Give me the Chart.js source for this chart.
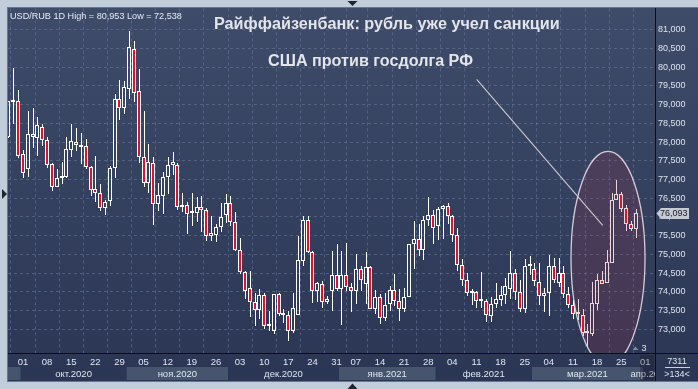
<!DOCTYPE html>
<html>
<head>
<meta charset="utf-8">
<script src="https://cdn.jsdelivr.net/npm/chart.js@4.4.1/dist/chart.umd.min.js"></script>
<style>
  html, body { margin: 0; padding: 0; background: #c2cddb; overflow: hidden; }
  #wrap { position: relative; width: 698px; height: 389px; }
</style>
</head>
<body>
<div id="wrap"><canvas id="usdrub" width="698" height="389"></canvas></div>
<script>
// daily candles USD/RUB, 28.09.2020 .. 30.03.2021
const openP = [
  78.14, 79.07, 79.09, 77.67, 77.28, 78.21, 78.12, 78.41, 78.05, 77.41,
  76.80, 77.05, 77.06, 77.79, 78.00, 77.86, 77.89, 77.34, 76.74, 76.65,
  76.24, 76.42, 77.30, 79.15, 78.90, 79.41, 80.49, 79.36, 77.60, 76.90,
  77.43, 76.34, 76.57, 77.06, 77.38, 77.39, 76.27, 76.32, 76.10, 76.11,
  76.27, 76.19, 75.49, 75.51, 75.73, 76.04, 76.37, 75.87, 75.13, 74.54,
  74.11, 73.74, 73.52, 73.91, 73.10, 72.96, 73.93, 73.38, 73.37, 72.96,
  73.38, 74.82, 75.93, 75.07, 74.02, 74.20, 73.73, 74.02, 74.44, 74.08,
  74.44, 74.14, 74.02, 74.62, 74.22, 74.67, 73.55, 73.85, 73.29, 73.67,
  74.05, 73.76, 73.55, 73.85, 75.28, 75.41, 75.13, 75.93, 76.06, 75.75,
  76.21, 76.28, 76.02, 75.53, 74.73, 74.33, 73.98, 74.00, 73.76, 73.76,
  73.36, 73.67, 73.78, 73.91, 74.08, 74.51, 73.99, 73.53, 74.70, 74.62,
  74.26, 73.89, 73.98, 74.70, 74.24, 74.51, 73.95, 73.64, 73.40, 73.38,
  72.90, 72.87, 73.67, 74.33, 74.24, 74.78, 76.46, 76.62, 76.24, 75.80, 75.68
];
const highP = [
  79.10, 79.99, 79.40, 77.79, 78.84, 78.90, 78.68, 78.48, 78.13, 77.45,
  77.29, 77.46, 78.14, 78.47, 78.37, 78.23, 78.08, 77.35, 77.63, 76.89,
  76.46, 77.35, 79.28, 79.65, 79.62, 80.953, 80.69, 79.96, 78.83, 77.95,
  77.60, 76.91, 77.20, 77.60, 77.74, 77.43, 76.65, 76.39, 76.65, 76.52,
  76.55, 76.23, 76.02, 75.82, 76.36, 76.61, 76.55, 76.12, 75.45, 74.57,
  74.57, 73.98, 74.08, 73.98, 73.49, 73.95, 73.96, 73.53, 73.49, 73.96,
  75.50, 76.02, 76.02, 75.09, 74.26, 74.29, 73.88, 75.09, 75.29, 75.09,
  75.31, 74.24, 75.00, 74.69, 75.06, 74.70, 74.05, 73.93, 73.96, 74.16,
  74.47, 74.07, 74.11, 75.29, 75.90, 75.82, 76.02, 76.53, 76.19, 76.27,
  76.33, 76.37, 76.06, 75.71, 74.87, 74.51, 74.08, 74.02, 74.53, 73.82,
  73.85, 74.24, 74.16, 74.38, 75.09, 74.60, 74.33, 74.88, 74.97, 74.78,
  74.78, 74.11, 74.99, 74.91, 74.91, 74.69, 74.14, 73.78, 73.80, 73.53,
  73.14, 74.26, 74.47, 74.55, 75.13, 76.64, 77.00, 76.66, 76.33, 75.88, 76.21
];
const lowP = [
  78.10, 78.47, 77.57, 77.04, 77.08, 77.83, 77.63, 77.90, 77.30, 76.68,
  76.79, 76.89, 77.05, 77.61, 77.75, 77.42, 77.28, 76.57, 76.39, 76.15,
  76.04, 76.30, 77.03, 78.59, 78.76, 79.16, 79.08, 77.45, 76.79, 76.65,
  75.78, 76.15, 76.08, 76.62, 77.12, 76.18, 76.13, 75.55, 75.75, 75.87,
  75.60, 75.37, 75.35, 75.32, 75.61, 75.84, 75.75, 75.09, 74.47, 73.80,
  73.34, 73.09, 73.27, 73.00, 72.96, 72.87, 73.36, 73.18, 72.69, 72.91,
  73.37, 74.69, 75.04, 73.71, 73.73, 73.58, 73.68, 73.49, 74.02, 73.11,
  74.02, 73.45, 73.67, 74.02, 73.67, 73.53, 73.40, 73.14, 73.22, 73.49,
  73.62, 73.22, 73.45, 73.85, 74.60, 74.95, 74.86, 75.75, 75.29, 75.38,
  75.40, 75.80, 75.33, 74.55, 74.17, 73.89, 73.64, 73.58, 73.58, 73.20,
  73.20, 73.58, 73.62, 73.67, 73.80, 73.78, 73.45, 73.43, 74.44, 74.16,
  73.64, 73.45, 73.36, 74.25, 74.14, 73.84, 73.58, 73.27, 73.25, 72.83,
  72.538, 72.83, 73.52, 74.20, 74.24, 74.78, 76.44, 76.12, 75.62, 75.62, 75.44
];
const closeP = [
  79.09, 79.11, 77.64, 77.17, 78.21, 78.13, 78.45, 78.06, 77.38, 76.80,
  77.04, 77.07, 77.81, 78.02, 77.91, 77.91, 77.34, 76.72, 76.64, 76.24,
  76.41, 77.32, 79.15, 78.90, 79.46, 80.53, 79.32, 77.59, 76.90, 77.46,
  76.34, 76.59, 77.07, 77.38, 77.46, 76.27, 76.32, 76.08, 76.11, 76.26,
  76.19, 75.49, 75.56, 75.73, 76.00, 76.37, 75.86, 75.11, 74.53, 74.02,
  73.73, 73.52, 73.91, 73.09, 73.11, 73.93, 73.40, 73.39, 72.96, 73.58,
  74.84, 75.93, 75.07, 74.02, 74.23, 73.73, 73.80, 74.44, 74.08, 74.44,
  74.14, 74.02, 74.62, 74.31, 74.67, 73.55, 73.85, 73.29, 73.64, 74.05,
  73.76, 73.55, 73.85, 75.28, 75.41, 75.13, 75.91, 76.06, 75.71, 76.21,
  76.28, 76.02, 75.53, 74.73, 74.33, 73.98, 74.00, 73.76, 73.76, 73.38,
  73.67, 73.80, 73.91, 74.16, 74.51, 73.99, 73.53, 74.70, 74.75, 74.29,
  73.89, 73.98, 74.70, 74.31, 74.51, 73.95, 73.64, 73.40, 73.41, 72.90,
  72.91, 73.70, 74.33, 74.22, 74.79, 76.46, 76.62, 76.21, 75.80, 75.68, 76.093
];

const tickDates = [
  '2020-10-01', '2020-10-08', '2020-10-15', '2020-10-22', '2020-10-29',
  '2020-11-05', '2020-11-12', '2020-11-19', '2020-11-26',
  '2020-12-03', '2020-12-10', '2020-12-17', '2020-12-24', '2020-12-31',
  '2021-01-07', '2021-01-14', '2021-01-21', '2021-01-28',
  '2021-02-04', '2021-02-11', '2021-02-18', '2021-02-25',
  '2021-03-04', '2021-03-11', '2021-03-18', '2021-03-25', '2021-04-01'
];
const monthKeys = ['2020-09', '2020-10', '2020-11', '2020-12', '2021-01', '2021-02', '2021-03', '2021-04'];
const monthLabels = ['', 'окт.2020', 'ноя.2020', 'дек.2020', 'янв.2021', 'фев.2021', 'мар.2021', 'апр.2021'];
const priceTicks = [73, 73.5, 74, 74.5, 75, 75.5, 76, 76.5, 77, 77.5, 78, 78.5, 79, 79.5, 80, 80.5, 81];
const holidays = ['2021-01-01'];

const titleText = 'Райффайзенбанк: рубль уже учел санкции';
const noteText = 'США против госдолга РФ';

// trading days on the time axis (a few empty days at the right end)
const dates = [];
for (let t = Date.UTC(2020, 8, 28); t <= Date.UTC(2021, 3, 5); t += 864e5) {
    const d = new Date(t);
    const s = d.toISOString().slice(0, 10);
    if (d.getUTCDay() === 0 || d.getUTCDay() === 6 || holidays.includes(s)) continue;
    dates.push(s);
}
const tickIdx = tickDates.map(s => dates.indexOf(s));
const tickText = {};
tickIdx.forEach((i, k) => { tickText[i] = tickDates[k].slice(8); });

const fmt = v => v.toFixed(3).replace('.', ',');

// highlighted zone and the pointer line, in data units
const zone = { x: 124.26, y: 74.9, rx: 7.67, ry: 2.85 };
const pointer = { x1: 97.04, y1: 79.675, x2: 123.16, y2: 75.773 };

const RED = '#e2102f';
const FONT = '"Liberation Sans", Arial, sans-serif';

const bodies = openP.map((o, i) => ({ x: i, y: [o, closeP[i]] }));
const upWicks = openP.map((o, i) => ({ x: i, y: [Math.max(o, closeP[i]), highP[i]] }));
const downWicks = openP.map((o, i) => ({ x: i, y: [lowP[i], Math.min(o, closeP[i])] }));

function fitText(ctx, text, x, y, w, weight, color) {
    ctx.font = weight + ' 100px ' + FONT;
    const m = ctx.measureText(text).width;
    ctx.font = weight + ' ' + (100 * w / m).toFixed(2) + 'px ' + FONT;
    ctx.fillStyle = color;
    ctx.textAlign = 'left';
    ctx.textBaseline = 'alphabetic';
    ctx.fillText(text, x, y);
}

const framePlugin = {
    id: 'frame',
    beforeDraw(chart) {
        const ctx = chart.ctx;
        const xs = chart.scales.x;
        ctx.save();
        ctx.fillStyle = '#c2cddb';
        ctx.fillRect(0, 0, 698, 389);
        const g = ctx.createLinearGradient(0, 8, 0, 381);
        g.addColorStop(0, '#3e4b69');
        g.addColorStop(1, '#2a3654');
        ctx.fillStyle = g;
        ctx.fillRect(8, 8, 690, 373);
        ctx.strokeStyle = '#6a7590';
        ctx.lineWidth = 1;
        ctx.strokeRect(7.5, 7.5, 700, 374);

        // little arrows on the frame
        ctx.fillStyle = '#1e2534';
        ctx.beginPath(); ctx.moveTo(347.5, 1); ctx.lineTo(357.5, 1); ctx.lineTo(352.5, 6); ctx.fill();
        ctx.beginPath(); ctx.moveTo(2, 189); ctx.lineTo(2, 199); ctx.lineTo(7, 194); ctx.fill();
        ctx.beginPath(); ctx.moveTo(347.5, 389); ctx.lineTo(357.5, 389); ctx.lineTo(352.5, 383.5); ctx.fill();

        // month bands
        const slot = xs.getPixelForValue(1) - xs.getPixelForValue(0);
        ctx.beginPath();
        ctx.rect(8, 354, 647, 27);
        ctx.clip();
        ctx.font = '9.5px ' + FONT;
        ctx.textAlign = 'center';
        ctx.textBaseline = 'middle';
        monthKeys.forEach((k, m) => {
            const idx = [];
            dates.forEach((d, i) => { if (d.startsWith(k)) idx.push(i); });
            const x0 = xs.getPixelForValue(idx[0]) - slot / 2;
            const x1 = xs.getPixelForValue(idx[idx.length - 1]) + slot / 2;
            if (m % 2 === 0) {
                ctx.fillStyle = '#47546e';
                ctx.fillRect(x0, 367, x1 - x0, 13);
            }
            ctx.fillStyle = '#dfe5ef';
            ctx.fillText(monthLabels[m], (x0 + x1) / 2, 374);
        });
        ctx.restore();
    },
    beforeDatasetsDraw(chart) {
        // snap candles onto the pixel grid so they stay crisp
        const xs = chart.scales.x;
        chart.data.datasets.forEach((ds, di) => {
            chart.getDatasetMeta(di).data.forEach((el, i) => {
                const px = Math.round(xs.getPixelForValue(i));
                el.x = ds.wick ? px + 0.5 : px;
                el.y = Math.round(el.y);
                el.base = Math.round(el.base);
            });
        });
    },
    afterDatasetsDraw(chart) {
        const ctx = chart.ctx;
        const xs = chart.scales.x, ys = chart.scales.y;
        const ca = chart.chartArea;
        ctx.save();
        ctx.beginPath();
        ctx.rect(ca.left, ca.top, ca.right - ca.left, ca.bottom - ca.top);
        ctx.clip();
        const cx = xs.getPixelForValue(zone.x), cy = ys.getPixelForValue(zone.y);
        const rx = xs.getPixelForValue(zone.x + zone.rx) - cx;
        const ry = cy - ys.getPixelForValue(zone.y + zone.ry);
        ctx.beginPath();
        ctx.ellipse(cx, cy, rx, ry, 0, 0, Math.PI * 2);
        ctx.fillStyle = 'rgba(165,48,71,0.2)';
        ctx.fill();
        ctx.strokeStyle = 'rgba(228,220,230,0.9)';
        ctx.lineWidth = 1.3;
        ctx.stroke();

        ctx.beginPath();
        ctx.moveTo(xs.getPixelForValue(pointer.x1), ys.getPixelForValue(pointer.y1));
        ctx.lineTo(xs.getPixelForValue(pointer.x2), ys.getPixelForValue(pointer.y2));
        ctx.strokeStyle = '#c9cad3';
        ctx.lineWidth = 1.1;
        ctx.stroke();
        ctx.restore();
    },
    afterDraw(chart) {
        const ctx = chart.ctx;
        const ys = chart.scales.y;
        ctx.save();

        // shaded box over the current day on the time axis
        ctx.fillStyle = 'rgba(20,22,32,0.28)';
        ctx.fillRect(640, 355, 14, 26);

        // separators
        ctx.strokeStyle = '#0b0f18';
        ctx.lineWidth = 1;
        ctx.beginPath();
        ctx.moveTo(655.5, 8); ctx.lineTo(655.5, 381);
        ctx.moveTo(8, 353.5); ctx.lineTo(698, 353.5);
        ctx.stroke();

        // texts
        const hi = Math.max(...highP), lo = Math.min(...lowP);
        fitText(ctx, 'USD/RUB 1D High = ' + fmt(hi) + ' Low = ' + fmt(lo), 10, 18.5, 172, 'normal', '#e6ebf3');
        fitText(ctx, titleText, 214, 29, 346, 'bold', '#e3e5ea');
        fitText(ctx, noteText, 268, 65.7, 205, 'bold', '#e3e5ea');

        // last price marker
        const last = closeP[closeP.length - 1];
        const y = Math.round(ys.getPixelForValue(last)) + 0.5;
        ctx.beginPath();
        ctx.moveTo(656.5, y);
        ctx.lineTo(661, y - 5.5);
        ctx.lineTo(689, y - 5.5);
        ctx.lineTo(689, y + 5.5);
        ctx.lineTo(661, y + 5.5);
        ctx.closePath();
        ctx.fillStyle = '#c6cbd3';
        ctx.fill();
        ctx.fillStyle = '#141a28';
        ctx.font = '9px ' + FONT;
        ctx.textAlign = 'left';
        ctx.textBaseline = 'middle';
        ctx.fillText(fmt(last), 660, y + 0.5);

        // small marker at the bottom right of the plot
        ctx.fillStyle = '#7d8aa0';
        ctx.beginPath(); ctx.moveTo(632.5, 350); ctx.lineTo(638.5, 350); ctx.lineTo(635.5, 346.5); ctx.fill();
        ctx.fillStyle = '#dde3ee';
        ctx.font = '9px ' + FONT;
        ctx.textAlign = 'center';
        ctx.fillText('3', 644, 349);

        // counters under the price axis
        ctx.fillText('7311', 677, 361.5);
        ctx.fillText('>134<', 677, 374.5);
        ctx.strokeStyle = '#c9d0dc';
        ctx.beginPath(); ctx.moveTo(665, 367.5); ctx.lineTo(690, 367.5); ctx.stroke();
        ctx.restore();
    }
};

Chart.defaults.font.family = FONT;

new Chart(document.getElementById('usdrub').getContext('2d'), {
    type: 'bar',
    data: {
        datasets: [
            {
                data: bodies,
                backgroundColor: c => closeP[c.dataIndex] >= openP[c.dataIndex] ? 'rgba(0,0,0,0)' : RED,
                borderColor: '#ffffff',
                borderWidth: 1,
                borderSkipped: false,
                minBarLength: 2,
                barThickness: 4,
                inflateAmount: 0,
                grouped: false
            },
            {
                wick: true,
                data: upWicks,
                backgroundColor: '#ffffff',
                borderWidth: 0,
                barThickness: 1,
                inflateAmount: 0,
                grouped: false
            },
            {
                wick: true,
                data: downWicks,
                backgroundColor: '#ffffff',
                borderWidth: 0,
                barThickness: 1,
                inflateAmount: 0,
                grouped: false
            }
        ]
    },
    options: {
        responsive: false,
        animation: false,
        events: [],
        layout: { padding: { left: 8, top: 8, right: 0, bottom: 8 } },
        plugins: {
            legend: { display: false },
            tooltip: { enabled: false }
        },
        scales: {
            x: {
                type: 'linear',
                min: -0.1,
                max: 134,
                offset: false,
                afterBuildTicks: axis => { axis.ticks = tickIdx.map(v => ({ value: v })); },
                afterFit: axis => { axis.height = 28; },
                grid: { color: 'rgba(112,128,165,0.5)', drawTicks: false },
                border: { display: false, dash: [3, 3] },
                ticks: {
                    autoSkip: false,
                    maxRotation: 0,
                    padding: 4,
                    color: '#dfe5ef',
                    font: { size: 9.5 },
                    callback: v => tickText[v] || ''
                }
            },
            y: {
                position: 'right',
                min: 72.368,
                max: 81.568,
                afterBuildTicks: axis => { axis.ticks = priceTicks.map(v => ({ value: v })); },
                afterFit: axis => { axis.width = 43; },
                grid: { color: 'rgba(112,128,165,0.5)', drawTicks: false },
                border: { display: false, dash: [3, 3] },
                ticks: {
                    padding: 3,
                    color: '#dde3ee',
                    font: { size: 9 },
                    callback: v => fmt(v)
                }
            }
        }
    },
    plugins: [framePlugin]
});
</script>
</body>
</html>
